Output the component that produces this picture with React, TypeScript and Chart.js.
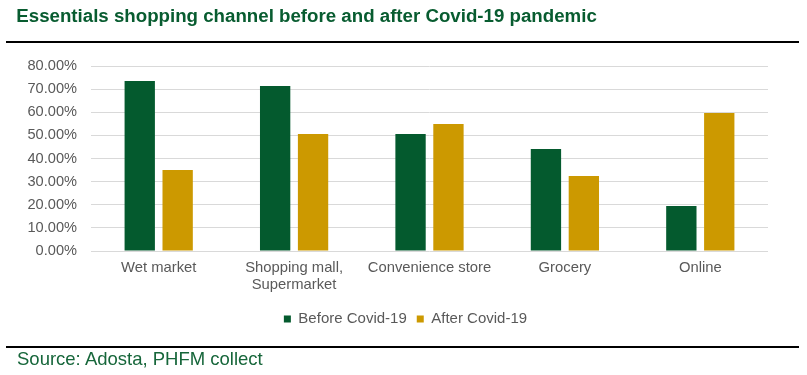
import React, { useEffect, useRef } from "react";
import { Chart, registerables } from "chart.js";

Chart.register(...registerables);

const categories: (string | string[])[] = [
  "Wet market",
  ["Shopping mall,", "Supermarket"],
  "Convenience store",
  "Grocery",
  "Online",
];
const beforeCovid = [73.5, 71.4, 50.6, 44.1, 19.5];
const afterCovid = [35.0, 50.6, 54.9, 32.4, 59.7];
const seriesNames = ["Before Covid-19", "After Covid-19"];
const yMin = 0;
const yMax = 80;
const yStep = 10;

const titleText = "Essentials shopping channel before and after Covid-19 pandemic";
const sourceText = "Source: Adosta, PHFM collect";

const FONT = "'Liberation Sans', Arial, Helvetica, sans-serif";

const legendShift = {
  id: "legendShift",
  afterLayout(chart: any) {
    const lg = chart.legend;
    if (lg) {
      lg.left += 21.5;
      lg.right += 21.5;
    }
  },
};

export default function App() {
  const canvasRef = useRef<HTMLCanvasElement | null>(null);

  useEffect(() => {
    document.body.style.margin = "0";
    const canvas = canvasRef.current;
    if (!canvas) return;
    const chart = new Chart(canvas, {
      type: "bar",
      data: {
        labels: categories as any,
        datasets: [
          {
            label: seriesNames[0],
            data: beforeCovid,
            backgroundColor: "#045a2e",
            barPercentage: 0.8,
            categoryPercentage: 0.56,
          },
          {
            label: seriesNames[1],
            data: afterCovid,
            backgroundColor: "#cc9900",
            barPercentage: 0.8,
            categoryPercentage: 0.56,
          },
        ],
      },
      plugins: [legendShift],
      options: {
        animation: false,
        responsive: true,
        maintainAspectRatio: false,
        layout: { padding: { left: 0, right: 39, top: 66, bottom: 38.5 } },
        plugins: {
          title: { display: false },
          tooltip: { enabled: false },
          legend: {
            display: true,
            position: "bottom",
            labels: {
              boxWidth: 7,
              boxHeight: 7,
              padding: 10,
              color: "#595959",
              font: { family: FONT, size: 15 },
            },
          },
        },
        scales: {
          x: {
            grid: { display: false, drawTicks: false },
            border: { display: false },
            ticks: {
              color: "#595959",
              padding: 9,
              maxRotation: 0,
              autoSkip: false,
              font: { family: FONT, size: 14.8, lineHeight: 1.1 },
            },
            afterFit: (scale: any) => {
              scale.height = 50.5;
            },
          },
          y: {
            min: yMin,
            max: yMax,
            grid: { color: "#d9d9d9", lineWidth: 1, drawTicks: false },
            border: { display: false },
            ticks: {
              stepSize: yStep,
              color: "#595959",
              padding: 14,
              font: { family: FONT, size: 14.6 },
              callback: (v: any) => Number(v).toFixed(2) + "%",
            },
            afterFit: (scale: any) => {
              scale.width = 91;
            },
          },
        },
      },
    });
    return () => chart.destroy();
  }, []);

  return (
    <div style={{ position: "relative", width: 807, height: 375, background: "#fff", overflow: "hidden" }}>
      <div style={{ position: "absolute", left: 0, top: 0, width: 807, height: 375 }}>
        <canvas ref={canvasRef} />
      </div>
      <div
        style={{
          position: "absolute",
          left: 16.3,
          top: 7.4,
          fontFamily: FONT,
          fontWeight: "bold",
          fontSize: 18.7,
          lineHeight: "18.7px",
          color: "#085c30",
          whiteSpace: "nowrap",
        }}
      >
        {titleText}
      </div>
      <div style={{ position: "absolute", left: 6, top: 41, width: 793, height: 2, background: "#000" }} />
      <div style={{ position: "absolute", left: 6, top: 346, width: 793, height: 2, background: "#000" }} />
      <div
        style={{
          position: "absolute",
          left: 17,
          top: 350.3,
          fontFamily: FONT,
          fontSize: 18.5,
          lineHeight: "18.5px",
          color: "#16663a",
          whiteSpace: "nowrap",
        }}
      >
        {sourceText}
      </div>
    </div>
  );
}
